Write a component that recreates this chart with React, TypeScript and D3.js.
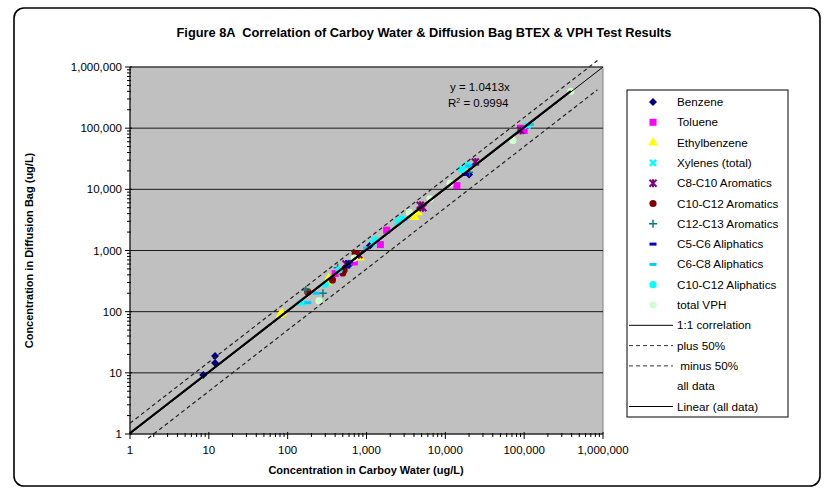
import React from "react";
import * as d3 from "d3";

const title = "Figure 8A  Correlation of Carboy Water & Diffusion Bag BTEX & VPH Test Results";
const xLabel = "Concentration in Carboy Water (ug/L)";
const yLabel = "Concentration in Diffusion Bag (ug/L)";
const tickValues = [1, 10, 100, 1000, 10000, 100000, 1000000];
const tickLabels = ["1", "10", "100", "1,000", "10,000", "100,000", "1,000,000"];

const benzene: [number, number][] = [[8.5, 9.2], [12, 14.5], [12, 18.8], [600, 580], [1100, 1200], [20000, 17500]];
const toluene: [number, number][] = [[400, 420], [700, 650], [1500, 1250], [1800, 2150], [14000, 11500], [90000, 100000], [100000, 92000]];
const ethylbenzene: [number, number][] = [[80, 88], [85, 95], [320, 300], [330, 350], [830, 760], [4100, 3500], [4500, 4200]];
const xylenes: [number, number][] = [[150, 140], [700, 800], [1200, 1300], [2500, 2900], [19000, 25000], [110000, 110000]];
const c8c10Arom: [number, number][] = [[550, 600], [800, 850], [4800, 5500], [5200, 5000], [24000, 28000], [90000, 92000]];
const c10c12Arom: [number, number][] = [[180, 210], [370, 330], [500, 430], [520, 480], [720, 900]];
const c12c13Arom: [number, number][] = [[170, 225], [280, 200], [430, 520], [20000, 19000]];
const c5c6Aliph: [number, number][] = [[560, 540], [600, 650], [18000, 17500]];
const c6c8Aliph: [number, number][] = [[180, 140], [230, 200], [1000, 1100], [3000, 3200], [20000, 24000], [120000, 115000]];
const c10c12Aliph: [number, number][] = [[300, 280], [450, 480], [1300, 1500], [2800, 3300], [16000, 21000]];
const totalVPH: [number, number][] = [[250, 150], [700, 750], [3500, 4200], [6400, 7000], [11500, 12600], [72000, 63000], [390000, 400000]];

const slope = 1.0413;
const lineXMin = 1;
const trendXMax = 390000;
const bandXMax = 850000;
const equation = "y = 1.0413x";
const rSquared = "0.9994";

type SeriesDef = { name: string; data: [number, number][]; color: string; shape: string; };
const series: SeriesDef[] = [
  { name: "Benzene", data: benzene, color: "#000080", shape: "diamond" },
  { name: "Toluene", data: toluene, color: "#FF00FF", shape: "square" },
  { name: "Ethylbenzene", data: ethylbenzene, color: "#FFFF00", shape: "triangle" },
  { name: "Xylenes (total)", data: xylenes, color: "#00FFFF", shape: "x" },
  { name: "C8-C10 Aromatics", data: c8c10Arom, color: "#800080", shape: "asterisk" },
  { name: "C10-C12 Aromatics", data: c10c12Arom, color: "#800000", shape: "circle" },
  { name: "C12-C13 Aromatics", data: c12c13Arom, color: "#008080", shape: "plus" },
  { name: "C5-C6 Aliphatics", data: c5c6Aliph, color: "#0000CC", shape: "dash" },
  { name: "C6-C8 Aliphatics", data: c6c8Aliph, color: "#00CCFF", shape: "dash" },
  { name: "C10-C12 Aliphatics", data: c10c12Aliph, color: "#00FFFF", shape: "circle" },
  { name: "total VPH", data: totalVPH, color: "#CCFFCC", shape: "circle" },
];

const FONT = "Arial, 'Liberation Sans', sans-serif";

function Marker({ shape, color, x, y }: { shape: string; color: string; x: number; y: number }) {
  const t = `translate(${x},${y})`;
  switch (shape) {
    case "diamond":
      return <path transform={t} d="M0,-4L4,0L0,4L-4,0Z" fill={color} />;
    case "square":
      return <rect x={x - 3.5} y={y - 3.5} width={7} height={7} fill={color} />;
    case "triangle":
      return <path transform={t} d={d3.symbol(d3.symbolTriangle, 40)()!} fill={color} />;
    case "circle":
      return <circle cx={x} cy={y} r={3.6} fill={color} />;
    case "x":
      return <path transform={t} d="M-3,-3L3,3M-3,3L3,-3" stroke={color} strokeWidth={2.5} />;
    case "asterisk":
      return <path transform={t} d="M-3.5,-3.5L3.5,3.5M-3.5,3.5L3.5,-3.5M0,-4L0,4" stroke={color} strokeWidth={2} />;
    case "plus":
      return <path transform={t} d="M-4,0L4,0M0,-4L0,4" stroke={color} strokeWidth={1.5} />;
    case "dash":
      return <rect x={x - 3.5} y={y - 1.5} width={7} height={3} fill={color} />;
    default:
      return null;
  }
}

export default function App() {
  const W = 828, H = 489;
  const left = 130, right = 603, top = 67, bottom = 434;
  const x = d3.scaleLog().domain([1, 1e6]).range([left, right]);
  const y = d3.scaleLog().domain([1, 1e6]).range([bottom, top]);

  const minorTicks: number[] = [];
  for (let d = 1; d < 1e6; d *= 10) for (let k = 2; k <= 9; k++) minorTicks.push(d * k);

  const line = d3.line<[number, number]>().x(d => x(d[0])).y(d => y(d[1]));
  const oneToOne = line([[1, 1], [1e6, 1e6]])!;
  const plus50 = line([[lineXMin, 1.5 * lineXMin], [bandXMax, 1.5 * bandXMax]])!;
  const minus50 = line([[1.7, 0.5 * 1.7], [bandXMax, 0.5 * bandXMax]])!;
  const trend = line([[lineXMin, slope * lineXMin], [trendXMax, slope * trendXMax]])!;

  const legX = 627, legY = 90, legW = 161, legH = 327;
  const rowH = 20.3;
  const legendRows = [
    ...series.map(s => ({ kind: "marker", s, label: s.name })),
    { kind: "solid", label: "1:1 correlation" },
    { kind: "dash", label: "plus 50%" },
    { kind: "dash", label: " minus 50%" },
    { kind: "none", label: "all data" },
    { kind: "solid", label: "Linear (all data)" },
  ] as any[];

  return (
    <svg width={W} height={H} style={{ position: "absolute", left: 0, top: 0, background: "#fff" }} fontFamily={FONT}>
      <rect x={14} y={8} width={806} height={478} rx={10} fill="#fff" stroke="#000" strokeWidth={1.6} />
      <text x={424} y={37} textAnchor="middle" fontSize={12} fontWeight="bold" fontFamily="'Liberation Sans Narrow', Arial, sans-serif" textLength={495} lengthAdjust="spacingAndGlyphs" style={{ whiteSpace: "pre" }}>{title}</text>

      <rect x={left} y={top} width={right - left} height={bottom - top} fill="#C0C0C0" stroke="#808080" strokeWidth={1} />
      {tickValues.slice(1).map(v => (
        <line key={v} x1={left} x2={right} y1={y(v)} y2={y(v)} stroke="#1a1a1a" strokeWidth={1} />
      ))}

      {/* axes */}
      <line x1={left} x2={left} y1={top} y2={bottom} stroke="#000" />
      <line x1={left} x2={right} y1={bottom} y2={bottom} stroke="#000" />
      {tickValues.map(v => (
        <g key={"t" + v}>
          <line x1={left - 5} x2={left + 2} y1={y(v)} y2={y(v)} stroke="#000" />
          <line x1={x(v)} x2={x(v)} y1={bottom - 2} y2={bottom + 5} stroke="#000" />
        </g>
      ))}
      {minorTicks.map(v => (
        <g key={"m" + v}>
          <line x1={left - 3} x2={left + 1} y1={y(v)} y2={y(v)} stroke="#000" />
          <line x1={x(v)} x2={x(v)} y1={bottom - 1} y2={bottom + 3} stroke="#000" />
        </g>
      ))}
      {tickValues.map((v, i) => (
        <text key={"yl" + v} x={122} y={y(v) + 4} textAnchor="end" fontSize={11.5}>{tickLabels[i]}</text>
      ))}
      {tickValues.map((v, i) => (
        <text key={"xl" + v} x={x(v)} y={454} textAnchor="middle" fontSize={11.5}>{tickLabels[i]}</text>
      ))}
      <text x={366} y={474} textAnchor="middle" fontSize={11} fontWeight="bold">{xLabel}</text>
      <text transform={`translate(33,${(top + bottom) / 2}) rotate(-90)`} textAnchor="middle" fontSize={11} fontWeight="bold">{yLabel}</text>

      {/* data */}
      {series.map(s => s.data.map((d, i) => (
        <Marker key={s.name + i} shape={s.shape} color={s.color} x={x(d[0])} y={y(d[1])} />
      )))}

      {/* lines */}
      <path d={oneToOne} stroke="#000" strokeWidth={1} fill="none" />
      <path d={plus50} stroke="#222" strokeWidth={1.2} strokeDasharray="4,3" fill="none" />
      <path d={minus50} stroke="#222" strokeWidth={1.2} strokeDasharray="4,3" fill="none" />
      <path d={trend} stroke="#000" strokeWidth={2} fill="none" />

      <text x={450} y={91} fontSize={11.5}>{equation}</text>
      <text x={448} y={107} fontSize={11.5}>R<tspan dy={-4} fontSize={7}>2</tspan><tspan dy={4}> = {rSquared}</tspan></text>

      {/* legend */}
      <rect x={legX} y={legY} width={legW} height={legH} fill="#fff" stroke="#000" strokeWidth={1} />
      {legendRows.map((r, i) => {
        const cy = legY + 12 + i * rowH;
        return (
          <g key={"lg" + i}>
            {r.kind === "marker" && <Marker shape={r.s.shape} color={r.s.color} x={653} y={cy} />}
            {r.kind === "solid" && <line x1={629} x2={673} y1={cy} y2={cy} stroke="#000" strokeWidth={1} />}
            {r.kind === "dash" && <line x1={629} x2={673} y1={cy} y2={cy} stroke="#333" strokeWidth={1} strokeDasharray="4,3" />}
            <text x={677} y={cy + 4} fontSize={11.7} style={{ whiteSpace: "pre" }}>{r.label}</text>
          </g>
        );
      })}
    </svg>
  );
}
